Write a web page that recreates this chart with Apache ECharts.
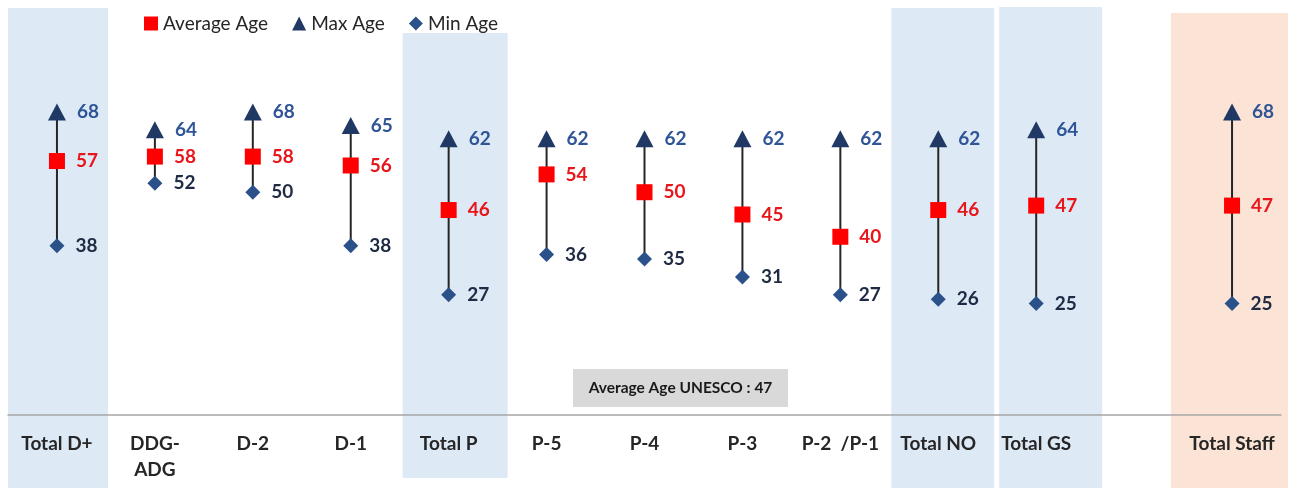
<!DOCTYPE html>
<html>
<head>
<meta charset="utf-8">
<script src="https://cdn.jsdelivr.net/npm/echarts@6/dist/echarts.min.js"></script>
<style>
  html, body { margin: 0; padding: 0; background: #ffffff; }
  #chart { width: 1291px; height: 488px; }
</style>
</head>
<body>
<div id="chart"></div>
<script>
// Staff age by grade
const categories = ['Total D+', 'DDG-\nADG', 'D-2', 'D-1', 'Total P', 'P-5', 'P-4', 'P-3', 'P-2  /P-1', 'Total NO', 'Total GS', '', 'Total Staff'];
const avgAge = [57, 58, 58, 56, 46, 54, 50, 45, 40, 46, 47, null, 47];
const maxAge = [68, 64, 68, 65, 62, 62, 62, 62, 62, 62, 64, null, 68];
const minAge = [38, 52, 50, 38, 27, 36, 35, 31, 27, 26, 25, null, 25];
const unescoAvg = 47;

// Shaded group columns (pixel offsets around the category centre)
const bands = [
  { cat: 'Total D+',    color: '#DEE9F6', left: -49, right: 51, top: 8,  bottom: 488 },
  { cat: 'Total P',     color: '#DEE9F6', left: -46, right: 59, top: 33, bottom: 478 },
  { cat: 'Total NO',    color: '#DEE9F6', left: -47, right: 56, top: 8,  bottom: 488 },
  { cat: 'Total GS',    color: '#DEE9F6', left: -37, right: 66, top: 7,  bottom: 488 },
  { cat: 'Total Staff', color: '#FBE4D5', left: -61, right: 56, top: 13, bottom: 488 }
];

const FONT = 'Lato, "Open Sans", sans-serif';
const chart = echarts.init(document.getElementById('chart'));

const rangeData = categories.map((c, i) => [i, minAge[i], maxAge[i]]).filter(d => d[1] != null);
const bandData = bands.map(b => [categories.indexOf(b.cat), 0]);

const valueLabel = (color) => ({
  show: true, position: 'right', distance: 11,
  fontFamily: FONT, fontWeight: 'bold', fontSize: 19, color: color,
  formatter: p => p.value[1]
});
const pts = arr => arr.map((v, i) => v == null ? null : [i, v]).filter(Boolean);

chart.setOption({
  animation: false,
  backgroundColor: '#ffffff',
  textStyle: { fontFamily: FONT },
  legend: {
    left: 139, top: 9,
    itemWidth: 14, itemHeight: 14, itemGap: 24,
    textStyle: { fontFamily: FONT, fontSize: 19, color: '#262626' },
    data: [
      { name: 'Average Age', icon: 'rect', itemStyle: { color: '#FF0000', opacity: 1 } },
      { name: 'Max Age', icon: 'triangle', itemStyle: { color: '#1F3864', opacity: 1 } },
      { name: 'Min Age', icon: 'diamond', itemStyle: { color: '#2A5189', opacity: 1 } }
    ]
  },
  grid: { left: 8, right: 10, top: 14, bottom: 73 },
  xAxis: {
    type: 'category',
    data: categories,
    axisLine: { show: true, lineStyle: { color: '#A6A6A6', width: 1.5 } },
    axisTick: { show: false },
    axisLabel: {
      interval: 0, margin: 16,
      fontFamily: FONT, fontWeight: 'bold', fontSize: 19, color: '#262626', lineHeight: 26
    },
    splitLine: { show: false }
  },
  yAxis: { type: 'value', min: 0, max: 90, show: false },
  series: [
    {
      type: 'custom', name: 'bands', z: -1, silent: true,
      data: bandData,
      renderItem: (params, api) => {
        const b = bands[params.dataIndex];
        const cx = api.coord([api.value(0), 0])[0];
        return {
          type: 'rect',
          shape: { x: cx + b.left, y: b.top, width: b.right - b.left, height: b.bottom - b.top },
          style: { fill: b.color }
        };
      }
    },
    {
      type: 'custom', name: 'range', z: 2, silent: true,
      data: rangeData,
      renderItem: (params, api) => {
        const lo = api.coord([api.value(0), api.value(1)]);
        const hi = api.coord([api.value(0), api.value(2)]);
        return {
          type: 'line',
          shape: { x1: lo[0], y1: lo[1], x2: hi[0], y2: hi[1] },
          style: { stroke: '#262626', lineWidth: 2 }
        };
      }
    },
    {
      type: 'scatter', name: 'Max Age', z: 3,
      symbol: 'triangle', symbolSize: [18, 17],
      itemStyle: { color: '#1F3864', opacity: 1 },
      label: valueLabel('#2F5597'),
      data: pts(maxAge)
    },
    {
      type: 'scatter', name: 'Min Age', z: 3,
      symbol: 'diamond', symbolSize: [15, 15],
      itemStyle: { color: '#2A5189', opacity: 1 },
      label: valueLabel('#1F2B44'),
      data: pts(minAge)
    },
    {
      type: 'scatter', name: 'Average Age', z: 4,
      symbol: 'rect', symbolSize: 16,
      itemStyle: { color: '#FF0000', opacity: 1 },
      label: valueLabel('#E8161B'),
      data: pts(avgAge)
    }
  ],
  graphic: [
    {
      type: 'group', left: 573, top: 369,
      children: [
        { type: 'rect', shape: { x: 0, y: 0, width: 215, height: 38 }, style: { fill: '#D9D9D9' } },
        {
          type: 'text', x: 107.5, y: 19,
          style: {
            text: 'Average Age UNESCO : ' + unescoAvg,
            fontFamily: FONT, fontWeight: 'bold', fontSize: 15.5, fill: '#1A1A1A',
            align: 'center', verticalAlign: 'middle'
          }
        }
      ]
    }
  ]
});
</script>
</body>
</html>
